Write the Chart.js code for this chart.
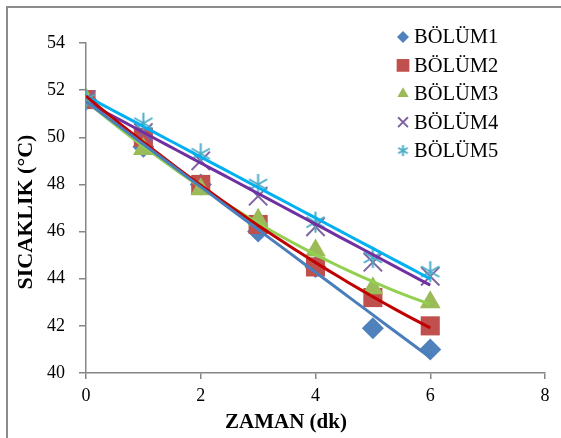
<!DOCTYPE html>
<html>
<head>
<meta charset="utf-8">
<script src="https://cdn.jsdelivr.net/npm/chart.js@4.4.1/dist/chart.umd.min.js"></script>
<style>
  html, body { margin: 0; padding: 0; background: #fff; overflow: hidden; }
  #wrap { position: relative; width: 561px; height: 438px; }
  #frame { position: absolute; left: 6px; top: 6px; width: 600px; height: 500px; border: 2px solid #8c8c8c; box-sizing: border-box; }
  #c { position: absolute; left: 0; top: 0; }
</style>
</head>
<body>
<div id="wrap">
  <div id="frame"></div>
  <canvas id="c" width="561" height="438"></canvas>
</div>
<script>
// values
const zaman = [0, 1, 2, 3, 4, 5, 6];
const bolum1 = [51.6, 49.6, 48.0, 46.0, 44.5, 41.9, 41.0];
const bolum2 = [51.6, 50.0, 48.0, 46.3, 44.5, 43.2, 42.0];
const bolum3 = [51.6, 49.5, 47.8, 46.5, 45.2, 43.6, 43.0];
const bolum4 = [51.6, 50.2, 49.0, 47.5, 46.2, 44.7, 44.1];
const bolum5 = [51.6, 50.6, 49.3, 48.0, 46.4, 44.9, 44.3];
const seriesNames = ['BÖLÜM1', 'BÖLÜM2', 'BÖLÜM3', 'BÖLÜM4', 'BÖLÜM5'];
const xTicks = [0, 2, 4, 6, 8];
const yTicks = [40, 42, 44, 46, 48, 50, 52, 54];

const markerColors = ['#4F81BD', '#C0504D', '#9BBB59', '#8064A2', '#4BACC6'];
const trendColors = ['#4A7EBB', '#C00000', '#92D050', '#7030A0', '#00B0F0'];

// asterisk marker (vertical + two slanted strokes)
function makeStar(size, color, lw) {
  const cv = document.createElement('canvas');
  cv.width = size; cv.height = size;
  const g = cv.getContext('2d');
  const c = size / 2, r = size / 2 - 1;
  g.strokeStyle = color; g.lineWidth = lw; g.lineCap = 'butt';
  g.beginPath();
  [90, 30, -30].forEach(a => {
    const t = a * Math.PI / 180;
    g.moveTo(c - Math.cos(t) * r, c - Math.sin(t) * r);
    g.lineTo(c + Math.cos(t) * r, c + Math.sin(t) * r);
  });
  g.stroke();
  return cv;
}
const starBig = makeStar(23, markerColors[4], 2);
const starSmall = makeStar(13, markerColors[4], 2);

// trend line fits (least squares), as Excel does
function linFit(xs, ys) {
  const n = xs.length;
  const mx = xs.reduce((a, b) => a + b) / n, my = ys.reduce((a, b) => a + b) / n;
  let sxy = 0, sxx = 0;
  xs.forEach((x, i) => { sxy += (x - mx) * (ys[i] - my); sxx += (x - mx) * (x - mx); });
  const b = sxy / sxx, a = my - b * mx;
  return x => a + b * x;
}
function quadFit(xs, ys) {
  let s = [0, 0, 0, 0, 0], t = [0, 0, 0];
  xs.forEach((x, i) => {
    for (let k = 0; k < 5; k++) s[k] += Math.pow(x, k);
    for (let k = 0; k < 3; k++) t[k] += Math.pow(x, k) * ys[i];
  });
  const M = [[s[0], s[1], s[2], t[0]], [s[1], s[2], s[3], t[1]], [s[2], s[3], s[4], t[2]]];
  for (let i = 0; i < 3; i++) {
    for (let j = i + 1; j < 3; j++) {
      const f = M[j][i] / M[i][i];
      for (let k = i; k < 4; k++) M[j][k] -= f * M[i][k];
    }
  }
  const c = [0, 0, 0];
  for (let i = 2; i >= 0; i--) {
    let v = M[i][3];
    for (let k = i + 1; k < 3; k++) v -= M[i][k] * c[k];
    c[i] = v / M[i][i];
  }
  return x => c[0] + c[1] * x + c[2] * x * x;
}
function trendPoints(f, x0, x1, steps) {
  const pts = [];
  for (let i = 0; i <= steps; i++) {
    const x = x0 + (x1 - x0) * i / steps;
    pts.push({ x: x, y: f(x) });
  }
  return pts;
}

const allSeries = [bolum1, bolum2, bolum3, bolum4, bolum5];
const fitKinds = ['lin', 'quad', 'quad', 'lin', 'lin'];
const pointStyles = ['rectRot', 'rect', 'triangle', 'crossRot', starBig];
const pointRadii = [11, 13.5, 12, 13, 12];

const datasets = [];
allSeries.forEach((ys, i) => {
  const f = fitKinds[i] === 'lin' ? linFit(zaman, ys) : quadFit(zaman, ys);
  datasets.push({
    label: seriesNames[i] + ' trend',
    data: trendPoints(f, zaman[0], zaman[zaman.length - 1], 30),
    showLine: true,
    borderColor: trendColors[i],
    borderWidth: 3,
    pointRadius: 0,
    fill: false,
    order: 1
  });
});
allSeries.forEach((ys, i) => {
  datasets.push({
    label: seriesNames[i],
    data: zaman.map((x, k) => ({ x: x, y: ys[k] })),
    showLine: false,
    pointStyle: pointStyles[i],
    pointRadius: pointRadii[i],
    pointBackgroundColor: markerColors[i],
    pointBorderColor: markerColors[i],
    pointBorderWidth: (i >= 3) ? 2 : 0,
    order: 10 - i
  });
});

const legendSizes = [6, 9, 6.5, 7, 0];
const extras = {
  id: 'extras',
  afterDraw(chart) {
    const ctx = chart.ctx;
    ctx.save();
    ctx.fillStyle = '#000';
    ctx.font = 'bold 21px "Liberation Serif"';
    ctx.textAlign = 'center';
    ctx.textBaseline = 'middle';
    ctx.fillText('ZAMAN (dk)', 286, 423);
    ctx.save();
    ctx.translate(26, 212);
    ctx.rotate(-Math.PI / 2);
    ctx.font = 'bold 22px "Liberation Serif"';
    ctx.fillText('SICAKLIK (°C)', 0, 0);
    ctx.restore();

    // legend
    ctx.font = '20.5px "Liberation Serif"';
    ctx.textAlign = 'left';
    seriesNames.forEach((name, i) => {
      const y = 37 + 28.4 * i;
      ctx.fillStyle = markerColors[i];
      ctx.strokeStyle = markerColors[i];
      ctx.lineWidth = 2;
      if (i === 4) {
        ctx.drawImage(starSmall, 403 - 6.5, y - 6.5);
      } else {
        Chart.helpers.drawPoint(ctx, {
          pointStyle: pointStyles[i], radius: legendSizes[i], rotation: 0,
          borderWidth: i >= 3 ? 2 : 0
        }, 403, y);
      }
      ctx.fillStyle = '#000';
      ctx.fillText(name, 414, y + 1);
    });
    ctx.restore();
  }
};

const axisGray = '#868686';
new Chart(document.getElementById('c'), {
  type: 'scatter',
  data: { datasets: datasets },
  options: {
    responsive: false,
    animation: false,
    layout: { padding: { left: 0, right: 16, top: 43, bottom: 0 } },
    plugins: { legend: { display: false }, tooltip: { enabled: false } },
    scales: {
      x: {
        type: 'linear', min: 0, max: 8,
        afterBuildTicks: s => { s.ticks = xTicks.map(v => ({ value: v })); },
        afterFit: s => { s.height = 65; },
        grid: { drawOnChartArea: false, drawTicks: true, tickLength: 6, color: axisGray, lineWidth: 1.5 },
        border: { color: axisGray, width: 1.5 },
        ticks: { color: '#000', font: { family: 'Liberation Serif', size: 18 }, padding: 6 }
      },
      y: {
        type: 'linear', min: 40, max: 54,
        afterBuildTicks: s => { s.ticks = yTicks.map(v => ({ value: v })); },
        afterFit: s => { s.width = 86; },
        grid: { drawOnChartArea: false, drawTicks: true, tickLength: 7, color: axisGray, lineWidth: 1.5 },
        border: { color: axisGray, width: 1.5 },
        ticks: { color: '#000', font: { family: 'Liberation Serif', size: 18 }, padding: 14 }
      }
    }
  },
  plugins: [extras]
});
</script>
</body>
</html>
